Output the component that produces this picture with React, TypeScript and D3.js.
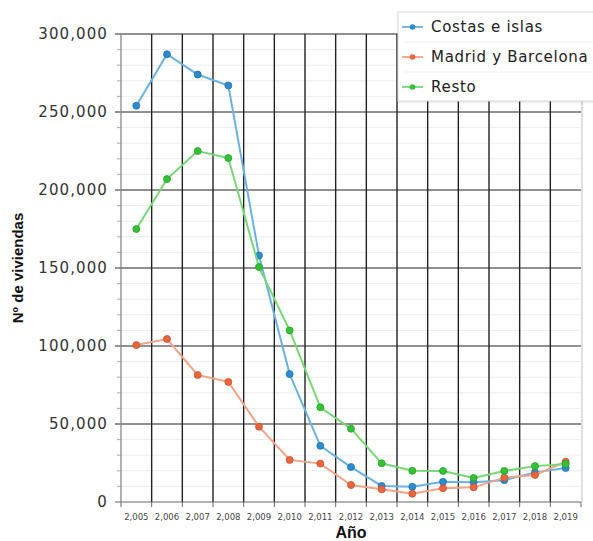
import React from "react";
import * as d3 from "d3";

const years = ["2005","2006","2007","2008","2009","2010","2011","2012","2013","2014","2015","2016","2017","2018","2019"];
const yearLabels = ["2,005","2,006","2,007","2,008","2,009","2,010","2,011","2,012","2,013","2,014","2,015","2,016","2,017","2,018","2,019"];
const costas = [254000,287000,274000,267000,158000,82000,36000,22400,10300,9800,13000,12600,14000,19000,21800];
const madrid = [100600,104500,81400,77000,48300,27000,24600,10900,8100,5300,8800,9400,15600,17300,25800];
const resto = [175000,207000,225000,220500,150600,110000,60700,47000,24800,20000,19900,15400,19900,23000,24400];
const seriesNames = ["Costas e islas","Madrid y Barcelona","Resto"];
const lineColors = ["#6ab2e4","#f2a387","#74d874"];
const dotColors = ["#2b8ccf","#e8653e","#34c234"];
const dotStroke = ["#1f72ad","#c9502d","#25a025"];
const yTicks = [0,50000,100000,150000,200000,250000,300000];

export default function App() {
  const W = 593, H = 541;
  const left = 121, right = 581, top = 34, bottom = 502;
  const x = d3.scaleBand<string>().domain(years).range([left, right]).padding(0);
  const y = d3.scaleLinear().domain([0, 300000]).range([bottom, top]);
  const fmt = d3.format(",");
  const allSeries = [costas, madrid, resto];
  const line = d3.line<number>().x((_, i) => (x(years[i]) as number) + x.bandwidth() / 2).y(v => y(v));
  const minor = d3.range(0, 300001, 10000).filter(v => v % 50000 !== 0);
  const bounds = years.map(yr => x(yr) as number).concat([right]);
  const textFont = "'DejaVu Sans', Verdana, sans-serif";

  return (
    <svg width={W} height={H} style={{ position: "absolute", left: 0, top: 0, background: "#fff" }}>
      <defs>
        <filter id="shadow" x="-5%" y="-5%" width="110%" height="120%">
          <feDropShadow dx="0" dy="1" stdDeviation="1" floodColor="#000" floodOpacity="0.12" />
        </filter>
      </defs>
      {/* minor horizontal grid */}
      {minor.map(v => (
        <line key={"m" + v} x1={left} x2={right} y1={y(v)} y2={y(v)} stroke="#ececec" strokeWidth={1} />
      ))}
      {/* y minor ticks */}
      {minor.map(v => (
        <line key={"mt" + v} x1={left - 4} x2={left} y1={y(v)} y2={y(v)} stroke="#aaa" strokeWidth={1} />
      ))}
      {/* vertical grid */}
      {bounds.slice(1, -1).map((b, i) => (
        <line key={"v" + i} x1={b} x2={b} y1={top} y2={bottom} stroke="#222" strokeWidth={1.4} />
      ))}
      {/* major horizontal grid */}
      {yTicks.map(v => (
        <line key={"g" + v} x1={left - 6} x2={right} y1={y(v)} y2={y(v)} stroke={v === 0 ? "#666" : "#222"} strokeWidth={1} />
      ))}
      {/* right border */}
      <line x1={right + 1} x2={right + 1} y1={top} y2={bottom} stroke="#d4d4d4" strokeWidth={1.5} />
      {/* y axis */}
      <line x1={left} x2={left} y1={top} y2={bottom} stroke="#888" strokeWidth={1.3} />
      {/* x ticks */}
      {bounds.map((b, i) => (
        <line key={"xt" + i} x1={b} x2={b} y1={bottom} y2={bottom + 5} stroke="#666" strokeWidth={1} />
      ))}
      {/* y labels */}
      {yTicks.map(v => (
        <text key={"yl" + v} x={108} y={y(v)} dy="0.36em" textAnchor="end" fontFamily={textFont} fontSize={15} letterSpacing={1.1} fill="#333">{fmt(v)}</text>
      ))}
      {/* x labels */}
      {years.map((yr, i) => (
        <text key={"xl" + yr} x={(x(yr) as number) + x.bandwidth() / 2} y={520} textAnchor="middle" fontFamily={textFont} fontSize={8.5} fill="#444">{yearLabels[i]}</text>
      ))}
      {/* axis titles */}
      <text transform={`translate(23,268) rotate(-90)`} textAnchor="middle" fontFamily="'Liberation Sans', Arial, sans-serif" fontWeight="bold" fontSize={15} fill="#111">Nº de viviendas</text>
      <text x={351} y={538} textAnchor="middle" fontFamily="'Liberation Sans', Arial, sans-serif" fontWeight="bold" fontSize={16} fill="#111">Año</text>
      {/* series */}
      {allSeries.map((s, si) => (
        <g key={"s" + si}>
          <path d={line(s) as string} fill="none" stroke={lineColors[si]} strokeWidth={2} />
          {s.map((v, i) => (
            <circle key={i} cx={(x(years[i]) as number) + x.bandwidth() / 2} cy={y(v)} r={3.5} fill={dotColors[si]} stroke={dotStroke[si]} strokeWidth={0.8} />
          ))}
        </g>
      ))}
      {/* legend */}
      <g>
        <rect x={398} y={12} width={200} height={89} fill="#fff" stroke="#d8d8d8" strokeWidth={1} filter="url(#shadow)" />
        {seriesNames.map((n, i) => (
          <g key={"lg" + i}>
            {i > 0 && <line x1={404} x2={598} y1={12 + i * 30} y2={12 + i * 30} stroke="#efefef" strokeWidth={1} />}
            <line x1={402} x2={423} y1={27 + i * 30} y2={27 + i * 30} stroke={lineColors[i]} strokeWidth={1.8} />
            <circle cx={412.5} cy={27 + i * 30} r={2.8} fill={dotColors[i]} />
            <text x={431} y={27 + i * 30} dy="0.36em" fontFamily={textFont} fontSize={15} letterSpacing={0.7} fill="#222">{n}</text>
          </g>
        ))}
      </g>
    </svg>
  );
}
